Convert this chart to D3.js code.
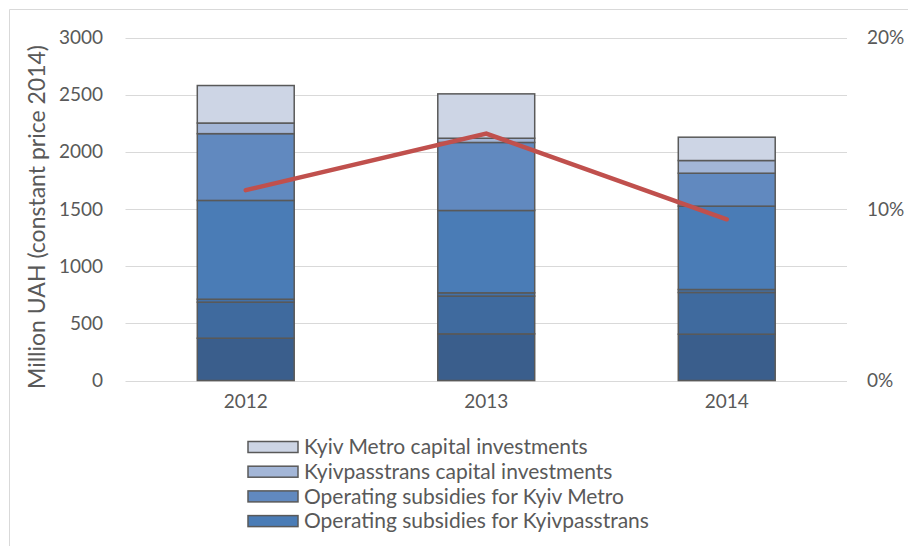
<!DOCTYPE html>
<html><head><meta charset="utf-8">
<script src="https://cdn.jsdelivr.net/npm/d3@7/dist/d3.min.js"></script>
<style>body{margin:0;background:#fff}svg{display:block}text{font-family:Lato,"Open Sans",sans-serif;fill:#595959}</style>
</head><body><svg id="c" width="908" height="546"></svg>
<script>
const years = ["2012", "2013", "2014"];
// bottom to top
const seriesNames = [
  "Series A (bottom)",
  "Series B",
  "Series C",
  "Operating subsidies for Kyivpasstrans",
  "Operating subsidies for Kyiv Metro",
  "Kyivpasstrans capital investments",
  "Kyiv Metro capital investments"
];
const seriesColors = ["#3A5E8C", "#3F6A9E", "#4371A8", "#4A7CB6", "#6189BF", "#A3B6D7", "#CDD5E5"];
const v0 = [370, 408, 405];
const v1 = [315, 330, 365];
const v2 = [26, 29, 26];
const v3 = [864, 720, 729];
const v4 = [584, 595, 288];
const v5 = [93, 37, 111];
const v6 = [328, 388, 204];
const shareValues = [0.111, 0.144, 0.094];
const leftTicks = [0, 500, 1000, 1500, 2000, 2500, 3000];
const rightTicks = [0, 0.10, 0.20];
const legendNames = ["Kyiv Metro capital investments", "Kyivpasstrans capital investments", "Operating subsidies for Kyiv Metro", "Operating subsidies for Kyivpasstrans"];

const seriesValues = [v0, v1, v2, v3, v4, v5, v6];
const rows = years.map((y, i) => {
  const r = {year: y};
  seriesNames.forEach((n, k) => r[n] = seriesValues[k][i]);
  return r;
});
const svg = d3.select("#c");
// outer border
svg.append("path").attr("d", "M9.5,546V9.5H908").attr("fill", "none").attr("stroke", "#D9D9D9").attr("stroke-width", 1);

const x = d3.scaleBand().domain(years).range([125.5, 847]).paddingInner(0.597).paddingOuter(0.2985);
const y = d3.scaleLinear().domain([0, 3000]).range([380.5, 37.5]);
const y2 = d3.scaleLinear().domain([0, 0.2]).range([380.5, 37.5]);

// gridlines
svg.append("g").selectAll("line").data(leftTicks).join("line")
  .attr("x1", 125.5).attr("x2", 847).attr("y1", d => Math.round(y(d)) + 0.5).attr("y2", d => Math.round(y(d)) + 0.5)
  .attr("stroke", "#D9D9D9").attr("stroke-width", 1);

// left axis
const gl = svg.append("g").attr("transform", "translate(125,0)")
  .call(d3.axisLeft(y).tickValues(leftTicks).tickFormat(d3.format("d")).tickSize(0).tickPadding(22));
gl.select(".domain").remove();
gl.selectAll("text").attr("font-size", 19).attr("fill", "#595959").attr("font-family", "Lato");

// right axis
const gr = svg.append("g").attr("transform", "translate(847,0)")
  .call(d3.axisRight(y2).tickValues(rightTicks).tickFormat(d3.format(".0%")).tickSize(0).tickPadding(20));
gr.select(".domain").remove();
gr.selectAll("text").attr("font-size", 19).attr("fill", "#595959").attr("font-family", "Lato");

// x axis labels
const gx = svg.append("g").attr("transform", "translate(0,381)")
  .call(d3.axisBottom(x).tickSize(0).tickPadding(14));
gx.select(".domain").remove();
gx.selectAll("text").attr("font-size", 19).attr("fill", "#595959").attr("font-family", "Lato");

// y title
svg.append("text").attr("transform", "translate(45,217) rotate(-90)").attr("text-anchor", "middle")
  .attr("font-size", 23).text("Million UAH (constant price 2014)");

// stacks
const stack = d3.stack().keys(seriesNames)(rows);
svg.append("g").selectAll("g").data(stack).join("g")
  .attr("fill", (d, i) => seriesColors[i])
  .selectAll("rect").data(d => d).join("rect")
  .attr("x", d => x(d.data.year)).attr("width", x.bandwidth())
  .attr("y", d => y(d[1])).attr("height", d => y(d[0]) - y(d[1]))
  .attr("stroke", "#595959").attr("stroke-width", 1.5);

// line
const line = d3.line().x((d, i) => x(years[i]) + x.bandwidth() / 2).y(d => y2(d));
svg.append("path").datum(shareValues).attr("d", line).attr("fill", "none")
  .attr("stroke", "#C0504D").attr("stroke-width", 4.5).attr("stroke-linecap", "round");

// legend
const lg = svg.append("g").selectAll("g").data(legendNames).join("g")
  .attr("transform", (d, i) => `translate(248,${447 + i * 24.7})`);
lg.append("rect").attr("x", 0).attr("y", -5.5).attr("width", 50).attr("height", 11)
  .attr("fill", d => seriesColors[seriesNames.indexOf(d)]).attr("stroke", "#595959").attr("stroke-width", 1.5);
lg.append("text").attr("x", 56).attr("y", 0).attr("dy", "0.35em").attr("font-size", 21).text(d => d);
</script></body></html>
